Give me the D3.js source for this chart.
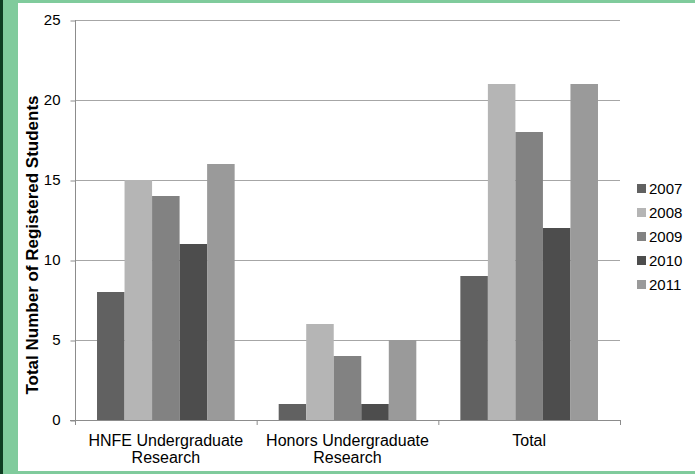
<!DOCTYPE html>
<html>
<head>
<meta charset="utf-8">
<script src="https://cdn.jsdelivr.net/npm/d3@7/dist/d3.min.js"></script>
<style>
  html, body { margin: 0; padding: 0; background: #ffffff; }
  svg { display: block; }
  text { font-family: "Liberation Sans", Arial, sans-serif; fill: #000; }
</style>
</head>
<body>
<svg id="chart" width="695" height="474"></svg>
<script>
// Registered students by program and year
const categories = [["HNFE Undergraduate", "Research"], ["Honors Undergraduate", "Research"], ["Total"]];
const years = ["2007", "2008", "2009", "2010", "2011"];
const values2007 = [8, 1, 9];
const values2008 = [15, 6, 21];
const values2009 = [14, 4, 18];
const values2010 = [11, 1, 12];
const values2011 = [16, 5, 21];
const yTicks = [0, 5, 10, 15, 20, 25];
const yTitle = "Total Number of Registered Students";

const seriesValues = [values2007, values2008, values2009, values2010, values2011];
const colors = ["#616161", "#b5b5b5", "#828282", "#4d4d4d", "#9a9a9a"];

const svg = d3.select("#chart");
const W = 695, H = 474;

// Frame: green border with dark left edge
svg.append("rect").attr("x", 0).attr("y", 0).attr("width", W).attr("height", H).attr("fill", "#80cb9c");
svg.append("rect").attr("x", 0).attr("y", 0).attr("width", 3).attr("height", H).attr("fill", "#0f3d22");
svg.append("rect").attr("x", 18).attr("y", 3).attr("width", W - 18).attr("height", 468).attr("fill", "#ffffff");

const plot = { left: 75, right: 620, top: 20, bottom: 420 };

const x0 = d3.scaleBand()
  .domain(d3.range(categories.length))
  .range([plot.left, plot.right])
  .paddingInner(0).paddingOuter(0);

const x1 = d3.scaleBand()
  .domain(years)
  .range([0, x0.bandwidth()])
  .paddingOuter(0.8).paddingInner(0);

const y = d3.scaleLinear().domain([0, 25]).range([plot.bottom, plot.top]);

// Horizontal gridlines
svg.append("g").selectAll("line")
  .data(yTicks.filter(t => t > 0))
  .join("line")
  .attr("x1", plot.left).attr("x2", plot.right)
  .attr("y1", d => y(d) + 0.5).attr("y2", d => y(d) + 0.5)
  .attr("stroke", "#a6a6a6").attr("stroke-width", 1);

// Bars
const groups = svg.append("g").selectAll("g")
  .data(categories.map((c, i) => i))
  .join("g")
  .attr("transform", i => `translate(${x0(i)},0)`);

groups.selectAll("rect")
  .data(i => years.map((yr, s) => ({ yr, s, v: seriesValues[s][i] })))
  .join("rect")
  .attr("x", d => x1(d.yr))
  .attr("width", x1.bandwidth())
  .attr("y", d => y(d.v))
  .attr("height", d => y(0) - y(d.v))
  .attr("fill", d => colors[d.s]);

// Y axis
const yAxis = svg.append("g")
  .attr("transform", `translate(${plot.left + 0.5},0)`)
  .call(d3.axisLeft(y).tickValues(yTicks).tickSize(5).tickPadding(10));
yAxis.select(".domain").attr("stroke", "#8c8c8c").attr("d", `M0,${plot.top}V${plot.bottom + 0.5}`);
yAxis.selectAll(".tick line").attr("stroke", "#8c8c8c");
yAxis.selectAll(".tick line").attr("transform", "translate(0,0.5)");
yAxis.selectAll(".tick text").attr("font-size", 15).attr("fill", "#000");

// X axis baseline and category ticks
const xAxisG = svg.append("g");
xAxisG.append("line")
  .attr("x1", plot.left - 5).attr("x2", plot.right)
  .attr("y1", plot.bottom + 0.5).attr("y2", plot.bottom + 0.5)
  .attr("stroke", "#8c8c8c");
xAxisG.selectAll("line.ct")
  .data(d3.range(categories.length + 1))
  .join("line")
  .attr("class", "ct")
  .attr("x1", i => (i < categories.length ? x0(i) : plot.right) + 0.5)
  .attr("x2", i => (i < categories.length ? x0(i) : plot.right) + 0.5)
  .attr("y1", plot.bottom).attr("y2", plot.bottom + 5)
  .attr("stroke", "#8c8c8c");

// Category labels
const catLabels = svg.append("g").selectAll("text")
  .data(categories.map((c, i) => ({ c, i })))
  .join("text")
  .attr("x", d => x0(d.i) + x0.bandwidth() / 2)
  .attr("y", 446)
  .attr("text-anchor", "middle")
  .attr("font-size", 16);
catLabels.selectAll("tspan")
  .data(d => d.c.map(line => ({ line, x: x0(d.i) + x0.bandwidth() / 2 })))
  .join("tspan")
  .attr("x", d => d.x)
  .attr("dy", (d, k) => k === 0 ? 0 : 17)
  .text(d => d.line);

// Y axis title
svg.append("text")
  .attr("transform", `translate(38,245) rotate(-90)`)
  .attr("text-anchor", "middle")
  .attr("font-size", 17)
  .attr("font-weight", "bold")
  .text(yTitle);

// Legend
const legend = svg.append("g").selectAll("g")
  .data(years.map((yr, s) => ({ yr, s })))
  .join("g")
  .attr("transform", d => `translate(637,${194 + d.s * 24})`);
legend.append("rect")
  .attr("x", 0).attr("y", -10).attr("width", 9).attr("height", 9)
  .attr("fill", d => colors[d.s]);
legend.append("text")
  .attr("x", 12).attr("y", 0)
  .attr("font-size", 15)
  .text(d => d.yr);
</script>
</body>
</html>
